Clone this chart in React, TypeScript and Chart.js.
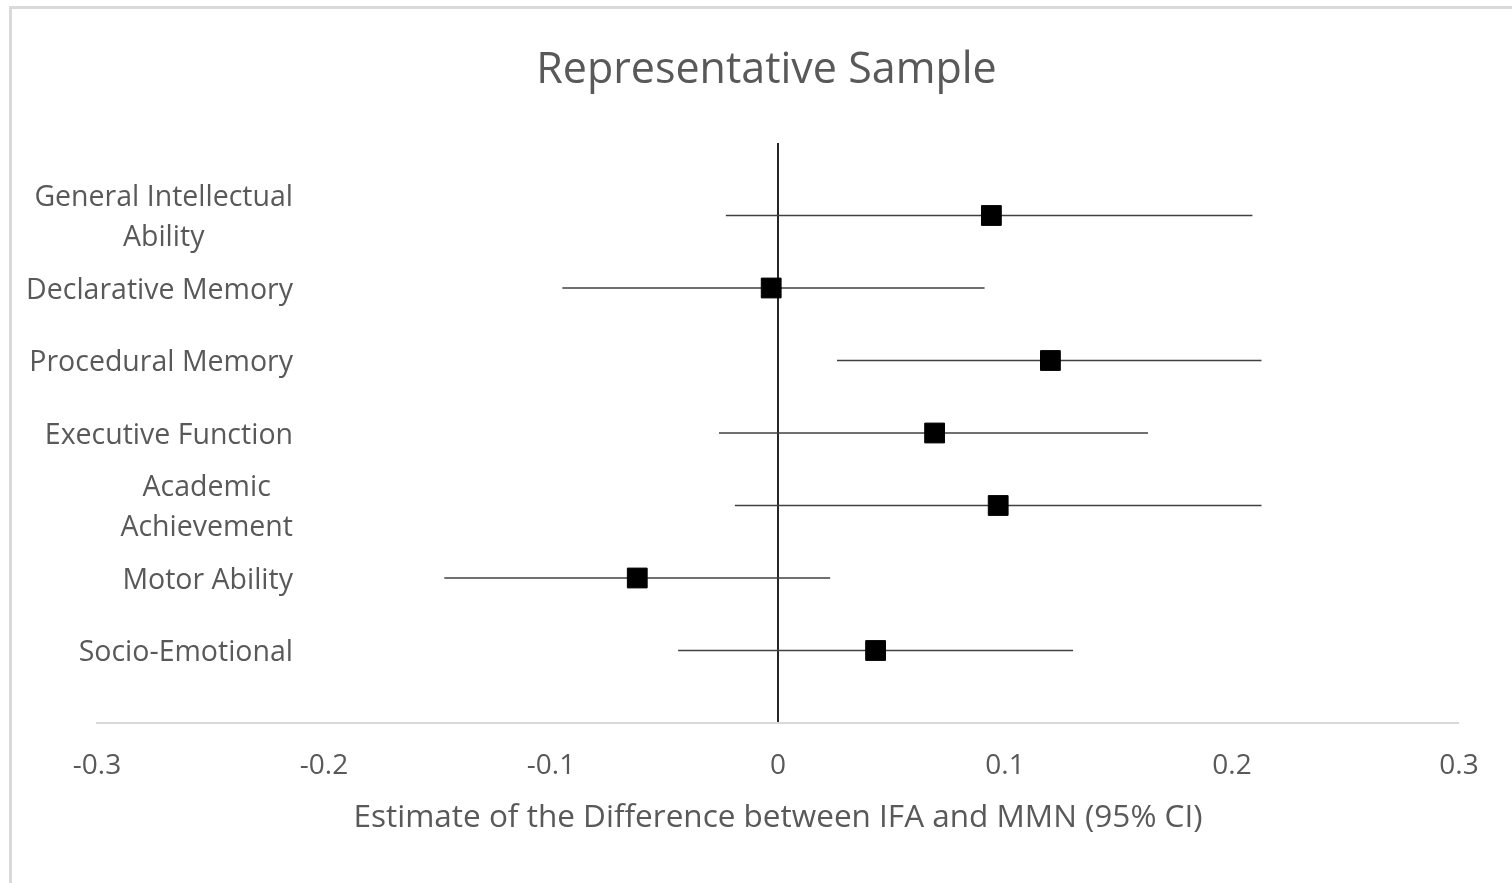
import { useEffect, useRef } from "react";
import { Chart, registerables } from "chart.js";

Chart.register(...registerables);

const categories = [
  "General Intellectual Ability",
  "Declarative Memory",
  "Procedural Memory",
  "Executive Function",
  "Academic Achievement",
  "Motor Ability",
  "Socio-Emotional",
];
const labelLines = [
  ["General Intellectual", "Ability"],
  ["Declarative Memory"],
  ["Procedural Memory"],
  ["Executive Function"],
  ["Academic", "Achievement"],
  ["Motor Ability"],
  ["Socio-Emotional"],
];
const estimates = [0.094, -0.003, 0.12, 0.069, 0.097, -0.062, 0.043];
const lowerCI = [-0.023, -0.095, 0.026, -0.026, -0.019, -0.147, -0.044];
const upperCI = [0.209, 0.091, 0.213, 0.163, 0.213, 0.023, 0.13];
const xTicks = [-0.3, -0.2, -0.1, 0, 0.1, 0.2, 0.3];

const FONT = "'Open Sans', sans-serif";
const GRAY = "#595959";

export default function App() {
  const ref = useRef<HTMLCanvasElement>(null);

  useEffect(() => {
    const canvas = ref.current;
    if (!canvas) return;

    const labelPlugin = {
      id: "categoryLabels",
      afterDraw(chart: any) {
        const c = chart.ctx;
        const ys = chart.scales.y;
        c.save();
        c.font = `28.5px ${FONT}`;
        c.fillStyle = GRAY;
        c.textBaseline = "middle";
        c.textAlign = "center";
        const right = 281;
        const lh = 40;
        labelLines.forEach((lines, i) => {
          const y = ys.getPixelForValue(i + 1) + 2.5;
          const w = Math.max(...lines.map((l) => c.measureText(l).width));
          const cx = right - w / 2;
          lines.forEach((l, j) => {
            c.fillText(l, cx, y + (j - (lines.length - 1) / 2) * lh);
          });
        });
        c.restore();
      },
    };

    const errorSets = categories.map((name, i) => ({
      label: name + " CI",
      data: [
        { x: lowerCI[i], y: i + 1 },
        { x: upperCI[i], y: i + 1 },
      ],
      showLine: true,
      borderColor: "#404040",
      borderWidth: 1.5,
      pointRadius: 0,
      pointHoverRadius: 0,
    }));

    const chart = new Chart(canvas, {
      type: "scatter",
      data: {
        datasets: [
          {
            label: "Estimate",
            data: estimates.map((e, i) => ({ x: e, y: i + 1 })),
            pointStyle: "rect",
            pointRadius: 14,
            pointHoverRadius: 14,
            backgroundColor: "#000000",
            borderColor: "#000000",
            borderWidth: 1,
          },
          ...errorSets,
        ],
      },
      options: {
        animation: false,
        responsive: true,
        maintainAspectRatio: false,
        layout: { padding: 0 },
        plugins: {
          legend: { display: false },
          tooltip: { enabled: false },
          title: {
            display: true,
            text: "Representative Sample",
            color: GRAY,
            font: { family: FONT, size: 43, weight: "normal", lineHeight: 1.2 },
            padding: { top: 36, bottom: 46.4 },
          },
        },
        scales: {
          x: {
            type: "linear",
            min: -0.3,
            max: 0.3,
            afterBuildTicks: (s: any) => {
              s.ticks = xTicks.map((v) => ({ value: v }));
            },
            ticks: {
              color: GRAY,
              font: { family: FONT, size: 28 },
              padding: 26.2,
              maxRotation: 0,
              callback: (v: any) => {
                const n = Number(v);
                return Math.abs(n) < 1e-9 ? "0" : n.toFixed(1);
              },
            },
            grid: {
              drawTicks: false,
              color: (ctx: any) =>
                ctx.tick && Math.abs(ctx.tick.value) < 1e-9 ? "#262626" : "rgba(0,0,0,0)",
              lineWidth: (ctx: any) =>
                ctx.tick && Math.abs(ctx.tick.value) < 1e-9 ? 2 : 0,
            },
            border: { display: true, color: "#d9d9d9", width: 2 },
            title: {
              display: true,
              text: "Estimate of the Difference between IFA and MMN (95% CI)",
              color: GRAY,
              font: { family: FONT, size: 31.5, lineHeight: 0.5714 },
              padding: { top: 0, bottom: 56 },
            },
          },
          y: {
            type: "linear",
            position: "left",
            min: 0,
            max: 8,
            reverse: true,
            ticks: { display: false },
            grid: { display: false, drawTicks: false },
            border: { display: false },
            afterFit: (s: any) => {
              s.width = 85;
            },
          },
          y2: {
            type: "linear",
            position: "right",
            min: 0,
            max: 8,
            display: true,
            ticks: { display: false },
            grid: { display: false, drawTicks: false },
            border: { display: false },
            afterFit: (s: any) => {
              s.width = 62;
            },
          },
        },
      },
      plugins: [labelPlugin],
    });

    return () => chart.destroy();
  }, []);

  return (
    <div style={{ position: "fixed", inset: 0, overflow: "hidden", background: "#ffffff" }}>
      <div
        style={{
          position: "absolute",
          left: 9,
          top: 6,
          width: 1540,
          height: 940,
          border: "3px solid #d9d9d9",
          boxSizing: "border-box",
        }}
      >
        <div style={{ position: "absolute", left: 0, top: 0, width: 1509, height: 874 }}>
          <canvas ref={ref} />
        </div>
      </div>
    </div>
  );
}
